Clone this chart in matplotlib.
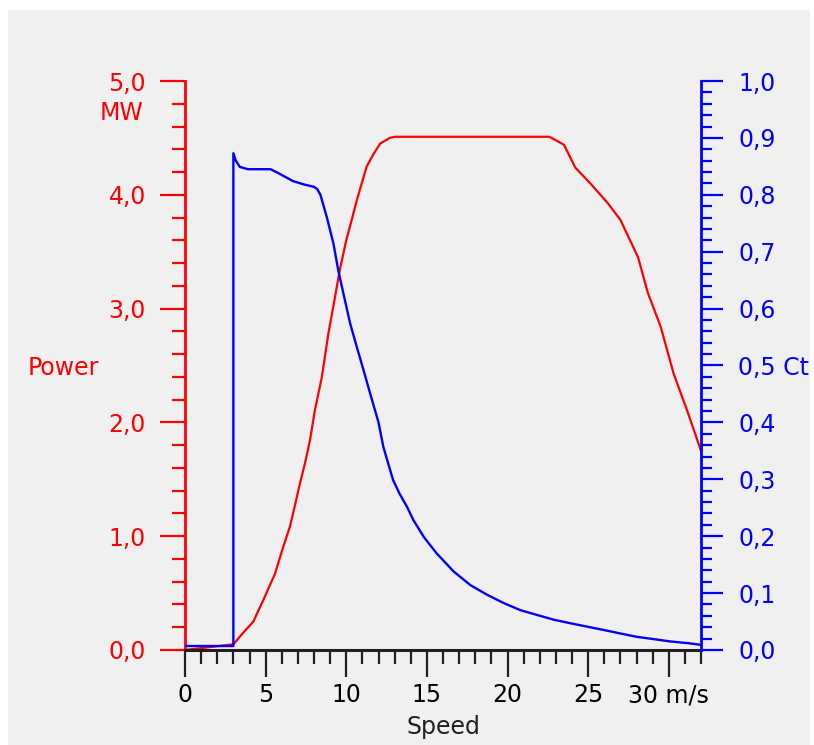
import numpy as np
import matplotlib
matplotlib.use("Agg")
import matplotlib.pyplot as plt
from matplotlib.patches import Rectangle
from matplotlib.ticker import MultipleLocator, FuncFormatter

#---------------data-----------------
speed_p = [0, 3.0, 3.6, 4.24, 4.86, 5.58, 6.1, 6.5, 6.8, 7.14, 7.44, 7.76, 8.06, 8.49, 8.89,
           9.3, 9.6, 10.0, 10.34, 10.65, 10.96, 11.27, 11.7, 12.1, 12.7, 13.0, 22.6, 23.5,
           24.2, 25.2, 26.2, 27.0, 28.1, 28.7, 29.5, 30.3, 31.2, 32.0]
power = [0, 0.05, 0.15, 0.25, 0.44, 0.67, 0.91, 1.08, 1.26, 1.47, 1.64, 1.85, 2.11, 2.40, 2.78,
         3.10, 3.34, 3.60, 3.78, 3.95, 4.10, 4.25, 4.36, 4.45, 4.50, 4.51, 4.51, 4.44,
         4.24, 4.09, 3.93, 3.78, 3.45, 3.14, 2.84, 2.43, 2.08, 1.75]

speed_ct = [0, 3.0, 3.0, 3.15, 3.4, 3.9, 5.3, 5.8, 6.7, 7.4, 8.0, 8.2, 8.4, 8.8, 9.2, 9.5,
            9.82, 10.24, 10.65, 11.07, 11.48, 12.0, 12.3, 12.6, 12.9, 13.3, 13.76, 14.17,
            14.8, 15.6, 16.66, 17.7, 18.74, 19.8, 20.8, 21.84, 22.9, 23.9, 24.95, 26.0,
            27.0, 28.05, 29.1, 30.1, 31.2, 32.0]
ct = [0.007, 0.007, 0.873, 0.86, 0.849, 0.845, 0.845, 0.838, 0.824, 0.818, 0.814, 0.81, 0.80,
      0.76, 0.715, 0.668, 0.627, 0.574, 0.533, 0.492, 0.451, 0.40, 0.357, 0.328, 0.299,
      0.275, 0.252, 0.228, 0.199, 0.170, 0.138, 0.114, 0.097, 0.082, 0.070, 0.0615, 0.053,
      0.047, 0.041, 0.035, 0.029, 0.023, 0.019, 0.015, 0.012, 0.009]

x_ticks = [0, 5, 10, 15, 20, 25, 30]
x_labels = ['0', '5', '10', '15', '20', '25', '30 m/s']
#----------------------------------------------

red = '#ff0000'
blue = '#0000ff'
bg = '#f0f0f0'
plt.rcParams['font.family'] = 'DejaVu Sans'
plt.rcParams['font.size'] = 17

W, H = 814, 745
fig = plt.figure(figsize=(W / 100, H / 100), dpi=100)
fig.patch.set_facecolor('white')
fig.patches.append(Rectangle((8 / W, 0), 802 / W, (H - 10) / H, transform=fig.transFigure,
                             facecolor=bg, edgecolor='none', zorder=-10))

ax = fig.add_axes([185 / W, 95 / H, (701 - 185) / W, (650 - 81) / H])
ax.set_facecolor(bg)
ax.patch.set_alpha(0)
ax2 = ax.twinx()

ax.plot(speed_p, power, color=red, lw=1.6, zorder=3)
ax2.plot(speed_ct, ct, color=blue, lw=1.7, zorder=3)

ax.set_xlim(0, 32)
ax.set_ylim(0, 5)
ax2.set_ylim(0, 1)

# spines
for s in ['top', 'right']:
    ax.spines[s].set_visible(False)
for s in ['top', 'left', 'bottom']:
    ax2.spines[s].set_visible(False)
ax.spines['left'].set_color(red)
ax.spines['left'].set_linewidth(2)
ax.spines['bottom'].set_color('#202020')
ax.spines['bottom'].set_linewidth(2.2)
ax.spines['bottom'].set_zorder(5)
ax2.spines['right'].set_color(blue)
ax2.spines['right'].set_linewidth(2)

# x axis
ax.set_xticks(x_ticks)
ax.set_xticklabels(x_labels)
ax.xaxis.set_minor_locator(MultipleLocator(1))
ax.tick_params(axis='x', which='major', length=19.5, width=1.6, color='#202020', pad=4.5)
ax.tick_params(axis='x', which='minor', length=10, width=1.6, color='#202020')

# left axis
ax.yaxis.set_major_locator(MultipleLocator(1))
ax.yaxis.set_minor_locator(MultipleLocator(0.2))
ax.yaxis.set_major_formatter(FuncFormatter(lambda v, p: f'{v:.1f}'.replace('.', ',')))
ax.tick_params(axis='y', which='major', length=18, width=1.6, color=red, labelcolor=red, pad=10)
ax.tick_params(axis='y', which='minor', length=9.4, width=1.6, color=red)

# right axis
def ct_fmt(v, p):
    s = f'{v:.1f}'.replace('.', ',')
    if abs(v - 0.5) < 1e-6:
        s += ' Ct'
    return s

ax2.yaxis.set_major_locator(MultipleLocator(0.1))
ax2.yaxis.set_minor_locator(MultipleLocator(0.02))
ax2.yaxis.set_major_formatter(FuncFormatter(ct_fmt))
ax2.tick_params(axis='y', which='major', length=16, width=1.6, color=blue, labelcolor=blue, pad=11)
ax2.tick_params(axis='y', which='minor', length=8, width=1.6, color=blue)

# labels
ax.annotate('MW', xy=(0, 5), xycoords=('axes fraction', 'data'), xytext=(-42, -32),
            textcoords='offset pixels', ha='right', va='center', color=red)
fig.text(28 / W, 1 - 368 / H, 'Power', ha='left', va='center', color=red)
fig.text(443 / W, 1 - 727 / H, 'Speed', ha='center', va='center', color='#202020')

fig.savefig('out.png', dpi=100, facecolor=fig.get_facecolor())
